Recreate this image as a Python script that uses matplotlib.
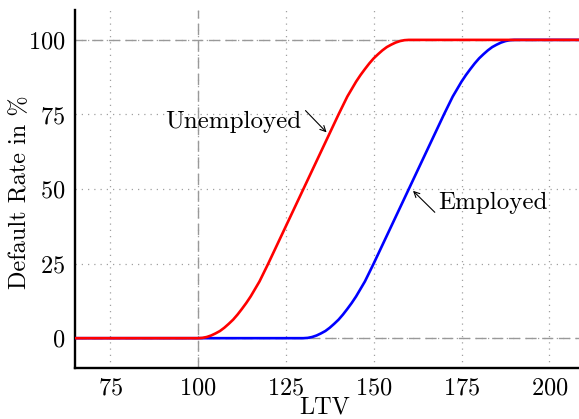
import matplotlib
matplotlib.use('Agg')
import matplotlib.pyplot as plt

# Default rate curves (LTV vs. default rate in %)
ltv_unemployed = [65, 100, 101.25, 102.5, 103.75, 105, 106.25, 107.5, 108.75, 110,
                  111.25, 112.5, 113.75, 115, 116.25, 117.5, 118.75, 120,
                  140, 141.25, 142.5, 143.75, 145, 146.25, 147.5, 148.75, 150,
                  151.25, 152.5, 153.75, 155, 156.25, 157.5, 158.75, 160, 210]
rate_unemployed = [0, 0, 0.1, 0.4, 0.9, 1.6, 2.4, 3.5, 4.8, 6.2,
                   7.9, 9.8, 11.8, 14, 16.5, 19, 22, 25,
                   75, 78, 81, 83.5, 86, 88.2, 90.2, 92.1, 93.8,
                   95.2, 96.5, 97.6, 98.4, 99.1, 99.6, 99.9, 100, 100]

ltv_employed = [65, 130, 131.25, 132.5, 133.75, 135, 136.25, 137.5, 138.75, 140,
                141.25, 142.5, 143.75, 145, 146.25, 147.5, 148.75, 150,
                170, 171.25, 172.5, 173.75, 175, 176.25, 177.5, 178.75, 180,
                181.25, 182.5, 183.75, 185, 186.25, 187.5, 188.75, 190, 210]
rate_employed = [0, 0, 0.1, 0.4, 0.9, 1.6, 2.4, 3.5, 4.8, 6.2,
                 7.9, 9.8, 11.8, 14, 16.5, 19, 22, 25,
                 75, 78, 81, 83.5, 86, 88.2, 90.2, 92.1, 93.8,
                 95.2, 96.5, 97.6, 98.4, 99.1, 99.6, 99.9, 100, 100]

x_ticks = [75, 100, 125, 150, 175, 200]
y_ticks = [0, 25, 50, 75, 100]

plt.rcParams['font.family'] = ['cmr10', 'DejaVu Serif']
plt.rcParams['axes.formatter.use_mathtext'] = True
plt.rcParams['mathtext.fontset'] = 'cm'

fig = plt.figure(figsize=(5.79, 4.19), dpi=100)
ax = fig.add_axes([0.1295, 0.1217, 0.880, 0.8543])

ax.set_xlim(65, 210)
ax.set_ylim(-10, 110)
ax.set_xticks(x_ticks)
ax.set_yticks(y_ticks)

# dotted grid + dashed reference lines
ax.grid(True, linestyle=(0, (1, 4)), color='#a0a0a0', linewidth=0.9)
ax.set_axisbelow(True)
for yy in (0, 100):
    ax.axhline(yy, color='#999999', linewidth=1.0, dashes=(8, 4), zorder=1)
ax.axvline(100, color='#999999', linewidth=1.0, dashes=(8, 4), zorder=1)

ax.plot(ltv_employed, rate_employed, color='blue', linewidth=1.9, zorder=3)
ax.plot(ltv_unemployed, rate_unemployed, color='red', linewidth=1.9, zorder=4)

# labels with little arrows
ax.text(129.5, 72.5, 'Unemployed', ha='right', va='center', fontsize=18)
ax.annotate('', xy=(136.6, 69.0), xytext=(130.6, 76.3),
            arrowprops=dict(arrowstyle='->', lw=0.8, color='black',
                            shrinkA=0, shrinkB=0, mutation_scale=10))
ax.text(168.4, 45.5, 'Employed', ha='left', va='center', fontsize=18)
ax.annotate('', xy=(161.2, 49.4), xytext=(167.4, 42.2),
            arrowprops=dict(arrowstyle='->', lw=0.8, color='black',
                            shrinkA=0, shrinkB=0, mutation_scale=10))

ax.set_xlabel('LTV', fontsize=17.5)
ax.set_ylabel('Default Rate in %', fontsize=17.5)
ax.xaxis.set_label_coords(0.491, -0.078)
ax.yaxis.set_label_coords(-0.086, 0.49)

for side in ('top', 'right'):
    ax.spines[side].set_visible(False)
for side in ('left', 'bottom'):
    ax.spines[side].set_linewidth(1.7)
ax.tick_params(length=0, labelsize=17.5, pad=7)

fig.savefig('out.png', dpi=100)
